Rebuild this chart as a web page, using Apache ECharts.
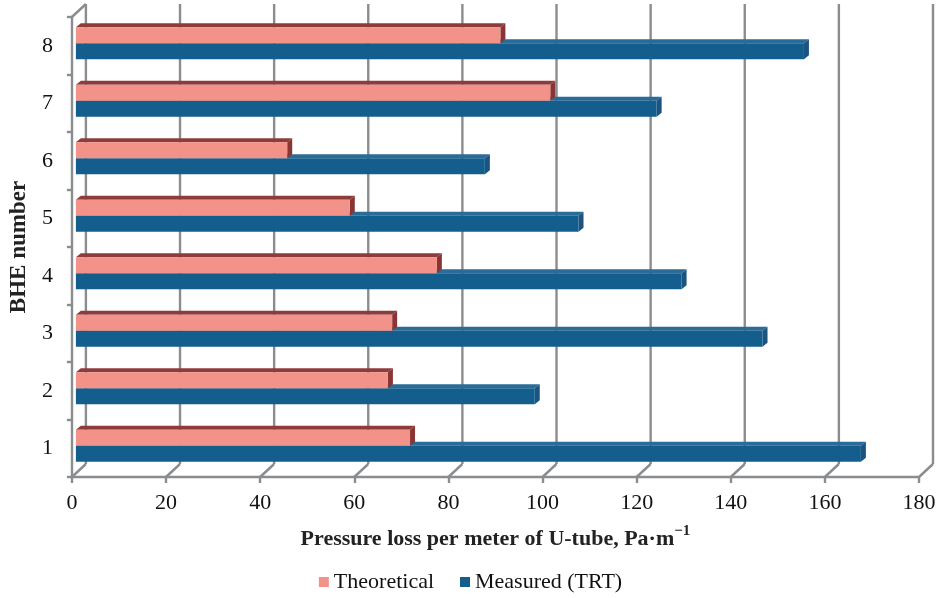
<!DOCTYPE html>
<html>
<head>
<meta charset="utf-8">
<script src="https://cdn.jsdelivr.net/npm/echarts@6/dist/echarts.min.js"></script>
<style>
html,body{margin:0;padding:0;background:#fff;}
#chart{width:941px;height:598px;}
</style>
</head>
<body>
<div id="chart"></div>
<script>
const categories = ['1', '2', '3', '4', '5', '6', '7', '8'];
const theoretical = [71, 66.3, 67.2, 76.7, 58.2, 44.9, 100.8, 90.2];
const measured = [166.8, 97.5, 145.9, 128.7, 106.8, 86.9, 123.4, 154.7];
const xTicks = [0, 20, 40, 60, 80, 100, 120, 140, 160, 180];
const seriesNames = ['Theoretical', 'Measured (TRT)'];

const FONT = '"Liberation Serif", "Times New Roman", serif';
const GRID_COLOR = '#8a8d90';
const DEPTH = [14, -13];

const chart = echarts.init(document.getElementById('chart'));

function barRenderer(slot, faceColor, topColor, sideColor) {
  return function (params, api) {
    const val = api.value(0);
    const cat = api.value(1);
    const p0 = api.coord([0, cat]);
    const p1 = api.coord([val, cat]);
    const band = api.size([0, 1])[1];
    const h = band * 0.28;
    const offX = 4, offY = -2.5;
    const x0 = p0[0] + offX, x1 = p1[0] + offX;
    const yc = p0[1] + offY;
    const yTop = slot === 0 ? yc - h : yc;
    const yBot = yTop + h;
    const dx = 5, dy = -4;
    return {
      type: 'group',
      children: [
        { type: 'polygon', shape: { points: [[x0, yTop], [x1, yTop], [x1 + dx, yTop + dy], [x0 + dx, yTop + dy]] }, style: { fill: topColor } },
        { type: 'polygon', shape: { points: [[x1, yTop], [x1 + dx, yTop + dy], [x1 + dx, yBot + dy], [x1, yBot]] }, style: { fill: sideColor } },
        { type: 'rect', shape: { x: x0, y: yTop, width: x1 - x0, height: h }, style: { fill: faceColor } }
      ]
    };
  };
}

const option = {
  backgroundColor: '#fff',
  animation: false,
  grid: { left: 66, right: 22, top: 17, bottom: 121 },
  legend: {
    data: seriesNames,
    bottom: 0,
    left: 'center',
    icon: 'rect',
    itemWidth: 10,
    itemHeight: 10,
    itemGap: 26,
    textStyle: { fontFamily: FONT, fontSize: 22, color: '#111' }
  },
  xAxis: {
    type: 'value',
    min: 0,
    max: 180,
    interval: 20,
    axisLine: { show: true, lineStyle: { color: GRID_COLOR, width: 2.4 } },
    axisTick: { show: true, length: 6, lineStyle: { color: GRID_COLOR, width: 2.4 } },
    splitLine: { show: false },
    axisLabel: { margin: 15, fontFamily: FONT, fontSize: 22, color: '#111' },
    name: '{a|Pressure loss per meter of U-tube, Pa·m}{b|−1}',
    nameLocation: 'middle',
    nameGap: 47,
    nameTextStyle: {
      rich: {
        a: { fontFamily: FONT, fontSize: 22, fontWeight: 'bold', color: '#222', lineHeight: 26, verticalAlign: 'bottom' },
        b: { fontFamily: FONT, fontSize: 15, fontWeight: 'bold', color: '#222', lineHeight: 26, verticalAlign: 'top' }
      }
    }
  },
  yAxis: {
    type: 'category',
    data: categories,
    axisLine: { show: true, lineStyle: { color: GRID_COLOR, width: 2.4 } },
    axisTick: { show: true, length: 5, lineStyle: { color: GRID_COLOR, width: 2.4 } },
    axisLabel: { margin: 19, fontFamily: FONT, fontSize: 22, color: '#111' },
    splitLine: { show: false },
    name: 'BHE number',
    nameLocation: 'middle',
    nameGap: 38,
    nameTextStyle: { fontFamily: FONT, fontSize: 23, fontWeight: 'bold', color: '#222' }
  },
  series: [
    {
      type: 'custom',
      name: 'wall',
      silent: true,
      z: 1,
      clip: false,
      data: xTicks.map(v => [v, 0]),
      encode: { x: 0, y: 1 },
      renderItem: function (params, api) {
        const cs = params.coordSys;
        const v = api.value(0);
        const x = api.coord([v, 0])[0];
        const fy = cs.y + cs.height;
        const ty = cs.y;
        const st = { stroke: GRID_COLOR, lineWidth: 2.4 };
        const children = [
          { type: 'line', shape: { x1: x, y1: fy, x2: x + DEPTH[0], y2: fy + DEPTH[1] }, style: st },
          { type: 'line', shape: { x1: x + DEPTH[0], y1: fy + DEPTH[1], x2: x + DEPTH[0], y2: ty + DEPTH[1] }, style: st }
        ];
        if (v === 0) {
          children.push({ type: 'line', shape: { x1: x, y1: ty, x2: x + DEPTH[0], y2: ty + DEPTH[1] }, style: st });
        }
        return { type: 'group', children: children };
      }
    },
    {
      type: 'custom',
      name: seriesNames[1],
      z: 3,
      clip: false,
      itemStyle: { color: '#135E8C' },
      data: measured.map((v, i) => [v, i]),
      encode: { x: 0, y: 1 },
      renderItem: barRenderer(1, '#135E8C', '#2A6B98', '#1B5480')
    },
    {
      type: 'custom',
      name: seriesNames[0],
      z: 4,
      clip: false,
      itemStyle: { color: '#F29288' },
      data: theoretical.map((v, i) => [v, i]),
      encode: { x: 0, y: 1 },
      renderItem: barRenderer(0, '#F29288', '#8E3B3B', '#8A3535')
    }
  ]
};
chart.setOption(option);
</script>
</body>
</html>
